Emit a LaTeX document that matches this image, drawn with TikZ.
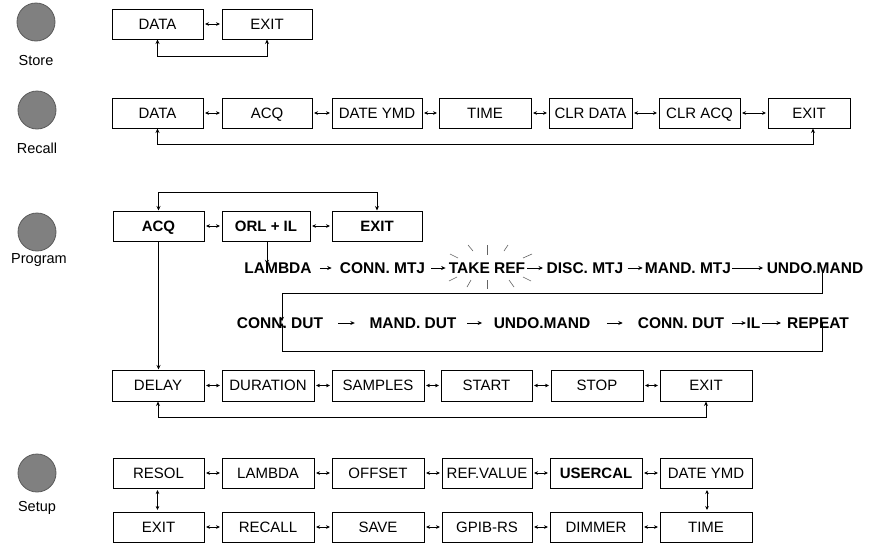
\documentclass[tikz,border=0pt]{standalone}
\usepackage{fontspec}
\setmainfont{Liberation Sans}
\usetikzlibrary{arrows.meta}
\definecolor{btnfill}{RGB}{128,128,128}
\definecolor{btnline}{RGB}{90,90,90}
\definecolor{raycol}{RGB}{100,100,100}
\begin{document}
\begin{tikzpicture}[x=1pt,y=-1pt,
  box/.style={draw, line width=1pt, minimum height=30pt, inner sep=0pt, text height=10.7pt, text depth=0pt, font=\fontsize{15}{18}\selectfont},
  bbox/.style={box, font=\fontsize{15}{18}\selectfont\bfseries},
  btn/.style={circle, draw=btnline, fill=btnfill, line width=0.8pt, minimum size=38pt, inner sep=0pt},
  lbl/.style={font=\fontsize{14.5}{16}\selectfont, inner sep=0pt},
  dbl/.style={line width=0.9pt, {Stealth[length=4pt,width=3.6pt]}-{Stealth[length=4pt,width=3.6pt]}, shorten <=1.5pt, shorten >=1.5pt},
  loopb/.style={line width=0.9pt, {Stealth[length=4.5pt,width=4pt]}-{Stealth[length=4.5pt,width=4pt]}},
  one/.style={line width=0.9pt, -{Stealth[length=4.5pt,width=4pt]}},
  ft/.style={inner sep=0pt, text height=11pt, text depth=0pt, font=\fontsize{15.5}{18}\selectfont\bfseries},
  ray/.style={line width=0.6pt, draw=raycol}
]
\useasboundingbox (0,0) rectangle (874,544);

% ---------------- Store ----------------
\node[btn] (cS) at (36,22) {};
\node[lbl] (lS) at (36,61) {Store};
\node[box, minimum width=91pt] (sData) at (157.5,24) {DATA};
\node[box, minimum width=90pt] (sExit) at (267,24) {EXIT};
\draw[dbl] (sData) -- (sExit);
\draw[loopb] (sData.south) -- ++(0,17) -| (sExit.south);

% ---------------- Recall ----------------
\node[btn] (cR) at (37,110) {};
\node[lbl] (lR) at (37,148) {Recall};
\node[box, minimum width=91pt] (rData) at (157.5,113) {DATA};
\node[box, minimum width=90pt] (rAcq) at (267,113) {ACQ};
\node[box, minimum width=90pt] (rDate) at (377,113) {DATE YMD};
\node[box, minimum width=92pt] (rTime) at (485,113) {TIME};
\node[box, minimum width=83pt] (rClrD) at (590.5,113) {CLR DATA};
\node[box, minimum width=81pt] (rClrA) at (699.5,113) {CLR ACQ};
\node[box, minimum width=82pt] (rExit) at (809,113) {EXIT};
\draw[dbl] (rData) -- (rAcq);
\draw[dbl] (rAcq) -- (rDate);
\draw[dbl] (rDate) -- (rTime);
\draw[dbl] (rTime) -- (rClrD);
\draw[dbl] (rClrD) -- (rClrA);
\draw[dbl] (rClrA) -- (rExit);
\draw[loopb] (rData.south) -- ++(0,16) -| ([xshift=4pt]rExit.south);

% ---------------- Program ----------------
\node[btn] (cP) at (37,232) {};
\node[lbl] (lP) at (39,260) {Program};
\node[bbox, minimum width=91pt] (pAcq) at (158.5,226) {ACQ};
\node[bbox, minimum width=88pt] (pOrl) at (266,226) {ORL + IL};
\node[bbox, minimum width=90pt] (pExit) at (377,226) {EXIT};
\draw[dbl] (pAcq) -- (pOrl);
\draw[dbl] (pOrl) -- (pExit);
\draw[loopb] (pAcq.north) -- ++(0,-18) -| (pExit.north);

% flow row 1
\node[ft] (f1) at (278,268) {LAMBDA};
\node[ft] (f2) at (382.5,268) {CONN. MTJ};
\node[ft] (f3) at (487,268) {TAKE REF};
\node[ft] (f4) at (585,268) {DISC. MTJ};
\node[ft] (f5) at (688,268) {MAND. MTJ};
\node[ft] (f6) at (815,268) {UNDO.MAND};
\draw[one] ([xshift=1pt]pOrl.south) -- ([xshift=1pt,yshift=-2pt]pOrl.south |- f1.north);
\draw[one, shorten <=8pt, shorten >=8pt] (f1.east) -- (f2.west);
\draw[one, shorten <=6pt, shorten >=3pt] (f2.east) -- (f3.west);
\draw[one, shorten <=2pt, shorten >=3.5pt] (f3.east) -- (f4.west);
\draw[one, shorten <=4pt, shorten >=2pt] (f4.east) -- (f5.west);
\draw[one, shorten <=1pt, shorten >=3.5pt] (f5.east) -- (f6.west);

% sparkle around TAKE REF
\draw[ray] (450,254) -- (458,258);
\draw[ray] (468,245) -- (473,251);
\draw[ray] (487,245) -- (487,255);
\draw[ray] (508,245) -- (504,251);
\draw[ray] (532,254) -- (523,258);
\draw[ray] (449,281) -- (457,277);
\draw[ray] (467,287) -- (471,280);
\draw[ray] (487,280) -- (487,289);
\draw[ray] (509,280) -- (514,287);
\draw[ray] (523,277) -- (531,281);

% flow row 2
\node[ft] (g1) at (280,323) {CONN. DUT};
\node[ft] (g2) at (413,323) {MAND. DUT};
\node[ft] (g3) at (542,323) {UNDO.MAND};
\node[ft] (g4) at (681,323) {CONN. DUT};
\node[ft] (g5) at (753.5,323) {IL};
\node[ft] (g6) at (818,323) {REPEAT};
\draw[one, shorten <=15pt, shorten >=14.5pt] (g1.east) -- (g2.west);
\draw[one, shorten <=10.5pt, shorten >=11.5pt] (g2.east) -- (g3.west);
\draw[one, shorten <=16.5pt, shorten >=15pt] (g3.east) -- (g4.west);
\draw[one, shorten <=8pt, shorten >=0.5pt] (g4.east) -- (g5.west);
\draw[one, shorten <=1.5pt, shorten >=6pt] (g5.east) -- (g6.west);

\coordinate (jTop) at (822,293);
\coordinate (jBot) at (822,351);
\draw[one] ([xshift=7pt,yshift=4pt]f6.south) -- (jTop) -| ([xshift=2pt,yshift=-4pt]g1.north);
\draw[one] ([xshift=4pt,yshift=6pt]g6.south) -- (jBot) -| ([xshift=2pt,yshift=6pt]g1.south);

% delay row
\node[box, minimum width=92pt, minimum height=31pt] (dDelay) at (158,385.5) {DELAY};
\node[box, minimum width=92pt, minimum height=31pt] (dDur) at (268,385.5) {DURATION};
\node[box, minimum width=92pt, minimum height=31pt] (dSamp) at (378,385.5) {SAMPLES};
\node[box, minimum width=91pt, minimum height=31pt] (dStart) at (486.5,385.5) {START};
\node[box, minimum width=92pt, minimum height=31pt] (dStop) at (597,385.5) {STOP};
\node[box, minimum width=92pt, minimum height=31pt] (dExit) at (706,385.5) {EXIT};
\draw[one] (pAcq.south) -- (pAcq.south |- dDelay.north);
\draw[dbl] (dDelay) -- (dDur);
\draw[dbl] (dDur) -- (dSamp);
\draw[dbl] (dSamp) -- (dStart);
\draw[dbl] (dStart) -- (dStop);
\draw[dbl] (dStop) -- (dExit);
\draw[loopb] (dDelay.south) -- ++(0,16) -| (dExit.south);

% ---------------- Setup ----------------
\node[btn] (cU) at (37,473) {};
\node[lbl] (lU) at (37,508) {Setup};
\node[box, minimum width=91pt] (u1) at (158.5,473) {RESOL};
\node[box, minimum width=92pt] (u2) at (268,473) {LAMBDA};
\node[box, minimum width=92pt] (u3) at (378,473) {OFFSET};
\node[box, minimum width=90pt] (u4) at (487,473) {REF.VALUE};
\node[bbox, minimum width=92pt] (u5) at (596,473) {USERCAL};
\node[box, minimum width=92pt] (u6) at (706,473) {DATE YMD};
\node[box, minimum width=91pt] (v1) at (158.5,527) {EXIT};
\node[box, minimum width=92pt] (v2) at (268,527) {RECALL};
\node[box, minimum width=92pt] (v3) at (378,527) {SAVE};
\node[box, minimum width=90pt] (v4) at (487,527) {GPIB-RS};
\node[box, minimum width=92pt] (v5) at (596,527) {DIMMER};
\node[box, minimum width=92pt] (v6) at (706,527) {TIME};
\draw[dbl] (u1) -- (u2);
\draw[dbl] (u2) -- (u3);
\draw[dbl] (u3) -- (u4);
\draw[dbl] (u4) -- (u5);
\draw[dbl] (u5) -- (u6);
\draw[dbl] (v1) -- (v2);
\draw[dbl] (v2) -- (v3);
\draw[dbl] (v3) -- (v4);
\draw[dbl] (v4) -- (v5);
\draw[dbl] (v5) -- (v6);
\draw[dbl] ([xshift=-1pt]u1.south) -- ([xshift=-1pt]v1.north);
\draw[dbl] ([xshift=1pt]u6.south) -- ([xshift=1pt]v6.north);
\end{tikzpicture}
\end{document}
